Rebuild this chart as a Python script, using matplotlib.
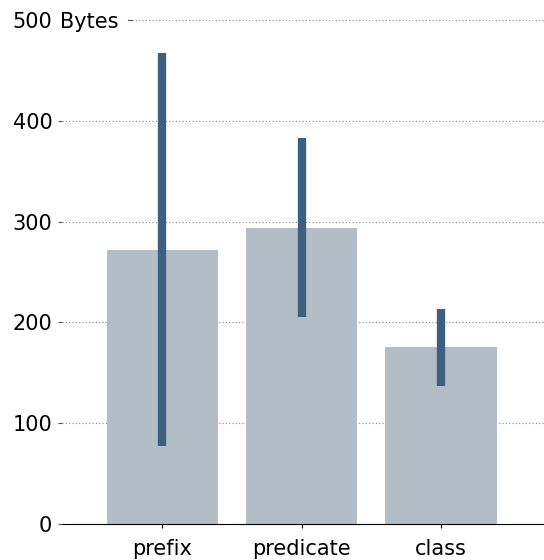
import matplotlib
matplotlib.use("Agg")
import matplotlib.pyplot as plt
import numpy as np

categories = ["prefix", "predicate", "class"]
mean_bytes = [272, 294, 176]
low_bytes = [77, 205, 137]
high_bytes = [467, 383, 213]
y_ticks = [0, 100, 200, 300, 400, 500]
y_tick_labels = ["0", "100", "200", "300", "400", "500"]
unit_label = "Bytes"

W, H = 544, 560
fig = plt.figure(figsize=(W / 100, H / 100), dpi=100)
ax = fig.add_axes([62 / W, 36 / H, (W - 62) / W, (524 - 20) / H])

x = np.arange(len(categories))
ax.bar(x, mean_bytes, width=0.8, color="#b3bdc6", zorder=2)
ax.vlines(x, low_bytes, high_bytes, color="#3e6080", linewidth=6, zorder=3)

ax.set_xlim(-0.72, 2.74)
ax.set_ylim(0, 500)
ax.set_xticks(x)
ax.set_xticklabels(categories, fontsize=15)
ax.set_yticks(y_ticks)
ax.set_yticklabels(y_tick_labels, fontsize=15)
ax.yaxis.grid(True, linestyle=(0, (1, 2)), color="#888888", linewidth=0.8, zorder=0)
ax.set_axisbelow(True)
for side in ["left", "right", "top"]:
    ax.spines[side].set_visible(False)
ax.spines["bottom"].set_color("black")
ax.tick_params(axis="y", length=3, pad=4, color="#555555")
ax.tick_params(axis="x", length=3, pad=8)

# unit appended to the top tick label, masking the start of its grid line
top_y = 1 - 20 / H
mask = plt.Rectangle((56 / W, top_y - 12 / H), 71 / W, 24 / H, transform=fig.transFigure,
                     facecolor="white", edgecolor="none", zorder=4)
fig.add_artist(mask)
fig.text(60 / W, top_y, unit_label, fontsize=15, ha="left", va="center_baseline", zorder=6)
fig.add_artist(plt.Line2D([128 / W, 132 / W], [top_y, top_y], transform=fig.transFigure,
                          color="#555555", linewidth=0.8, zorder=6))

fig.savefig("out.png", dpi=100)
